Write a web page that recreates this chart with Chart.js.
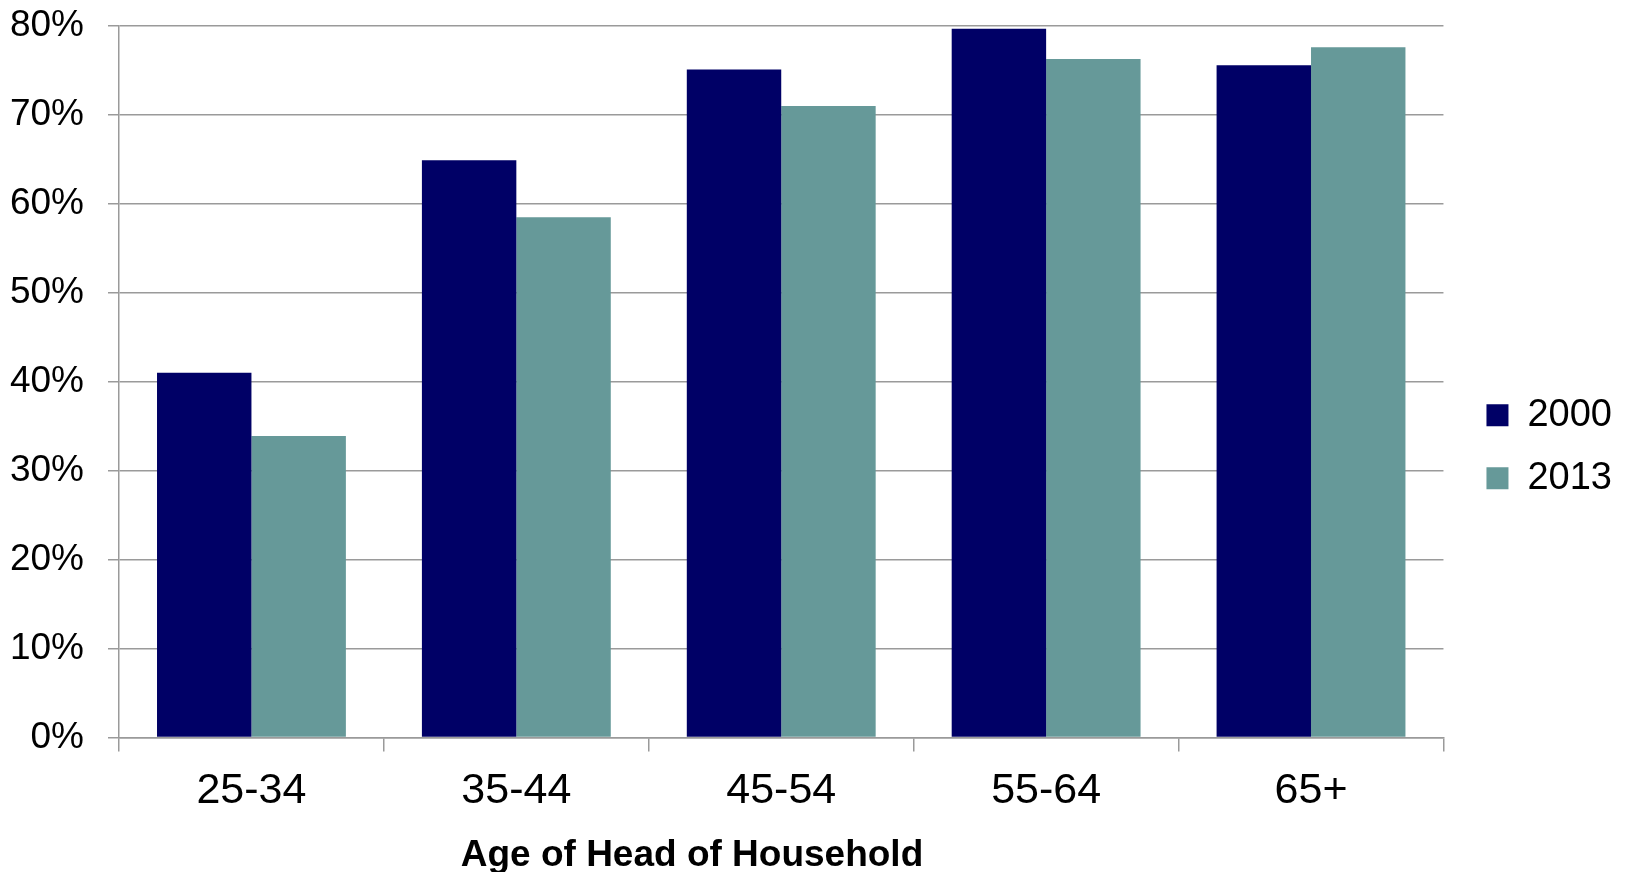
<!DOCTYPE html>
<html>
<head>
<meta charset="utf-8">
<title>Age of Head of Household</title>
<script src="https://cdn.jsdelivr.net/npm/chart.js@4"></script>
<style>
  body { margin: 0; background: #fff; }
  #wrap { width: 1630px; height: 872px; position: relative; }
</style>
</head>
<body>
<div id="wrap"><canvas id="chart"></canvas></div>
<script>
// Data
const categories = ['25-34', '35-44', '45-54', '55-64', '65+'];
const seriesNames = ['2000', '2013'];
const values2000 = [41.0, 64.9, 75.1, 79.7, 75.6];
const values2013 = [33.9, 58.5, 71.0, 76.3, 77.6];
const yTickValues = [0, 10, 20, 30, 40, 50, 60, 70, 80];
const xAxisTitle = 'Age of Head of Household';

const FONT = '"Liberation Sans", Arial, sans-serif';
const GRID = '#9a9a9a';

// x axis title, not centred on the plot in the original
const axisTitle = {
  id: 'axisTitle',
  afterDraw(chart) {
    const ctx = chart.ctx;
    ctx.save();
    ctx.font = 'bold 37px ' + FONT;
    ctx.fillStyle = '#000';
    ctx.textAlign = 'center';
    ctx.textBaseline = 'alphabetic';
    ctx.fillText(xAxisTitle, 692, 866);
    ctx.restore();
  }
};

new Chart(document.getElementById('chart'), {
  type: 'bar',
  data: {
    labels: categories,
    datasets: [
      { label: seriesNames[0], data: values2000, backgroundColor: '#000066' },
      { label: seriesNames[1], data: values2013, backgroundColor: '#669999' }
    ]
  },
  options: {
    responsive: true,
    maintainAspectRatio: false,
    animation: false,
    layout: { padding: { top: 26, left: 4, right: 8, bottom: 4.5 } },
    datasets: { bar: { categoryPercentage: 0.713, barPercentage: 1.0, borderWidth: 0 } },
    scales: {
      x: {
        grid: { offset: true, drawOnChartArea: false, drawTicks: true, tickLength: 14, color: GRID, lineWidth: 1.5 },
        border: { color: GRID, width: 1.5 },
        ticks: { font: { family: FONT, size: 43 }, color: '#000', padding: 14 },
        afterFit(scale) {
          scale.height = 130;
          scale.paddingLeft = 0;
          scale.paddingRight = 0;
        }
      },
      y: {
        min: 0,
        max: 80,
        afterBuildTicks(scale) { scale.ticks = yTickValues.map(v => ({ value: v })); },
        grid: { color: GRID, lineWidth: 1.5, tickLength: 11 },
        border: { color: GRID, width: 1.5 },
        ticks: { font: { family: FONT, size: 37 }, color: '#000', padding: 24, callback: v => v + '%' },
        afterFit(scale) {
          scale.width = 115;
          scale.paddingTop = 0;
          scale.paddingBottom = 0;
        }
      },
      // empty space between plot and legend
      gap: {
        type: 'linear',
        position: 'right',
        grid: { display: false },
        border: { display: false },
        ticks: { display: false },
        afterFit(scale) {
          scale.width = 18;
          scale.paddingTop = 0;
          scale.paddingBottom = 0;
        }
      }
    },
    plugins: {
      legend: {
        position: 'right',
        labels: { font: { family: FONT, size: 38 }, color: '#000', boxWidth: 22, boxHeight: 22, padding: 25 }
      },
      tooltip: { enabled: false }
    }
  },
  plugins: [axisTitle]
});
</script>
</body>
</html>
